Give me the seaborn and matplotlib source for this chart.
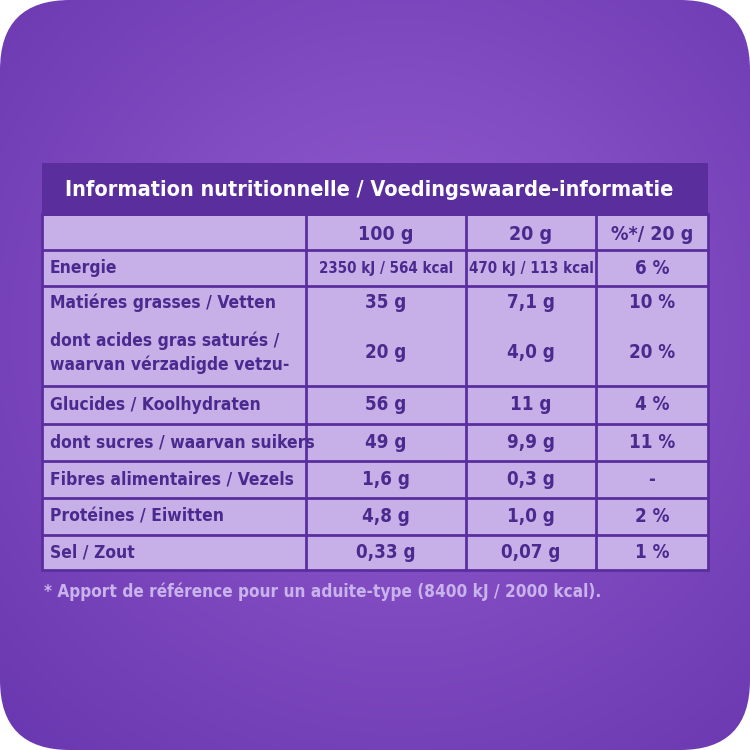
import numpy as np
import matplotlib.pyplot as plt
import seaborn as sns
from matplotlib.patches import FancyBboxPatch, Rectangle

sns.set_theme(style='white')
plt.rcParams['font.family'] = ['DejaVu Sans']

title = 'Information nutritionnelle / Voedingswaarde-informatie'
col_heads = ['100 g', '20 g', '%*/ 20 g']
labels = ['Energie',
          'Matiéres grasses / Vetten',
          'dont acides gras saturés /\nwaarvan vérzadigde vetzu-',
          'Glucides / Koolhydraten',
          'dont sucres / waarvan suikers',
          'Fibres alimentaires / Vezels',
          'Protéines / Eiwitten',
          'Sel / Zout']
per100 = ['2350 kJ / 564 kcal', '35 g', '20 g', '56 g', '49 g', '1,6 g', '4,8 g', '0,33 g']
per20 = ['470 kJ / 113 kcal', '7,1 g', '4,0 g', '11 g', '9,9 g', '0,3 g', '1,0 g', '0,07 g']
pct = ['6 %', '10 %', '20 %', '4 %', '11 %', '-', '2 %', '1 %']
footnote = '* Apport de référence pour un aduite-type (8400 kJ / 2000 kcal).'

# layout (pixels)
row_top = [250, 286, 320, 386, 424, 461, 498, 535]
row_bot = [286, 320, 386, 424, 461, 498, 535, 570]
hlines = [214, 250, 286, 386, 424, 461, 498, 535]
cols = [42, 306, 466, 596, 708]

fig = plt.figure(figsize=(7.5, 7.5), dpi=100)
fig.patch.set_alpha(0)
ax = fig.add_axes([0, 0, 1, 1])
ax.set_xlim(0, 750)
ax.set_ylim(750, 0)
ax.axis('off')

# background gradient clipped to rounded square
yy, xx = np.mgrid[0:750, 0:750]
r = np.sqrt((xx - 400) ** 2 + (yy - 330) ** 2) / 560
c0 = np.array([0x95, 0x5c, 0xd0]) / 255
c1 = np.array([0x6a, 0x38, 0xb0]) / 255
img = c0 + (c1 - c0) * np.clip(r, 0, 1)[..., None]
im = ax.imshow(img, extent=(0, 750, 750, 0), zorder=0)
clip = FancyBboxPatch((0, 0), 750, 750, boxstyle='round,pad=0,rounding_size=70',
                      transform=ax.transData, facecolor='none', edgecolor='none')
ax.add_patch(clip)
im.set_clip_path(clip)

fill = '#c7b0e8'
dark = '#5b2e9e'
txt = '#4a2a8e'
fp = dict(family='DejaVu Sans', stretch='condensed', weight='bold')

ax.add_patch(Rectangle((cols[0], 214), cols[-1] - cols[0], 570 - 214, facecolor=fill,
                       edgecolor=dark, lw=2, zorder=1))
ax.add_patch(Rectangle((cols[0], 163), cols[-1] - cols[0], 51, facecolor=dark,
                       edgecolor='none', zorder=2))
ax.text(65, 190, title, color='white', fontsize=15.5, va='center', ha='left', zorder=3, **fp)

for y in hlines:
    ax.plot([cols[0], cols[-1]], [y, y], color=dark, lw=2, zorder=2)
for x in cols[1:-1]:
    ax.plot([x, x], [214, 570], color=dark, lw=2, zorder=2)

for i, h in enumerate(col_heads):
    ax.text((cols[i + 1] + cols[i + 2]) / 2, 234, h, color=txt, fontsize=14,
            ha='center', va='center', zorder=3, **fp)

for i, lab in enumerate(labels):
    yc = (row_top[i] + row_bot[i]) / 2
    ax.text(50, yc, lab, color=txt, fontsize=12.5, ha='left', va='center',
            linespacing=1.35, zorder=3, **fp)
    for j, v in enumerate([per100[i], per20[i], pct[i]]):
        fs = 10.8 if j < 2 and i == 0 else 13.5
        ax.text((cols[j + 1] + cols[j + 2]) / 2, yc, v, color=txt, fontsize=fs,
                ha='center', va='center', zorder=3, **fp)

ax.text(44, 592, footnote, color='#c9b3ec', fontsize=12.3, ha='left', va='center',
        zorder=3, **fp)

fig.savefig('out.png', dpi=100)
